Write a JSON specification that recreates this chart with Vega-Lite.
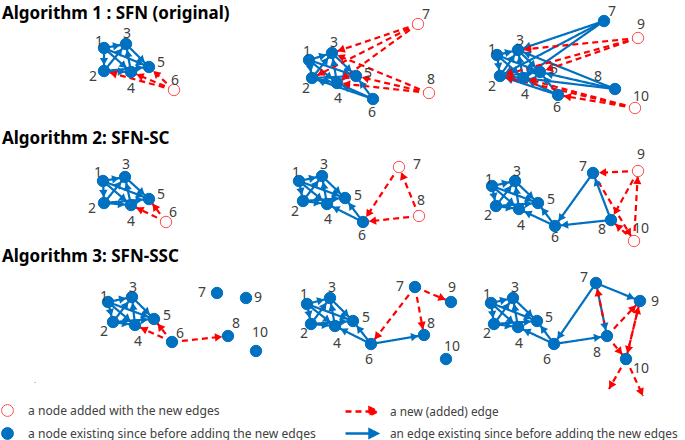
{
  "$schema": "https://vega.github.io/schema/vega-lite/v6.json",
  "width": 685,
  "height": 440,
  "padding": 0,
  "autosize": {"type": "none"},
  "background": "white",
  "config": {"view": {"stroke": null}},
  "datasets": {
    "nodes": [
      {"key":101,"id":"1","x":104,"y":48,"lx":99,"ly":42,"kind":"existing"},
      {"key":102,"id":"2","x":104,"y":71,"lx":93,"ly":77,"kind":"existing"},
      {"key":103,"id":"3","x":126,"y":44,"lx":127,"ly":34,"kind":"existing"},
      {"key":104,"id":"4","x":131,"y":72,"lx":131,"ly":89,"kind":"existing"},
      {"key":105,"id":"5","x":149,"y":67,"lx":161,"ly":63,"kind":"existing"},
      {"key":106,"id":"6","x":174,"y":90,"lx":175,"ly":81,"kind":"added"},
      {"key":201,"id":"1","x":309,"y":60,"lx":307,"ly":52,"kind":"existing"},
      {"key":202,"id":"2","x":312,"y":78,"lx":306,"ly":89,"kind":"existing"},
      {"key":203,"id":"3","x":332,"y":53,"lx":334,"ly":43,"kind":"existing"},
      {"key":204,"id":"4","x":337,"y":83,"lx":338,"ly":99,"kind":"existing"},
      {"key":205,"id":"5","x":356,"y":76,"lx":368,"ly":74,"kind":"existing"},
      {"key":206,"id":"6","x":373,"y":99,"lx":372,"ly":113,"kind":"existing"},
      {"key":207,"id":"7","x":418,"y":24,"lx":426,"ly":15,"kind":"added"},
      {"key":208,"id":"8","x":429,"y":93,"lx":431,"ly":80,"kind":"added"},
      {"key":301,"id":"1","x":497,"y":55,"lx":492,"ly":50,"kind":"existing"},
      {"key":302,"id":"2","x":500,"y":76,"lx":492,"ly":87,"kind":"existing"},
      {"key":303,"id":"3","x":518,"y":50,"lx":520,"ly":41,"kind":"existing"},
      {"key":304,"id":"4","x":523,"y":78,"lx":525,"ly":95,"kind":"existing"},
      {"key":305,"id":"5","x":540,"y":72,"lx":554,"ly":70,"kind":"existing"},
      {"key":306,"id":"6","x":558,"y":95,"lx":557,"ly":108,"kind":"existing"},
      {"key":307,"id":"7","x":604,"y":21,"lx":612,"ly":12,"kind":"existing"},
      {"key":308,"id":"8","x":615,"y":89,"lx":598,"ly":77,"kind":"existing"},
      {"key":309,"id":"9","x":638,"y":38,"lx":641,"ly":25,"kind":"added"},
      {"key":310,"id":"10","x":635,"y":108,"lx":641,"ly":97,"kind":"added"},
      {"key":401,"id":"1","x":103,"y":181,"lx":98,"ly":173,"kind":"existing"},
      {"key":402,"id":"2","x":104,"y":203,"lx":92,"ly":209,"kind":"existing"},
      {"key":403,"id":"3","x":125,"y":177,"lx":126,"ly":165,"kind":"existing"},
      {"key":404,"id":"4","x":131,"y":205,"lx":131,"ly":222,"kind":"existing"},
      {"key":405,"id":"5","x":149,"y":199,"lx":161,"ly":195,"kind":"existing"},
      {"key":406,"id":"6","x":166,"y":222,"lx":173,"ly":213,"kind":"added"},
      {"key":501,"id":"1","x":299,"y":181,"lx":296,"ly":173,"kind":"existing"},
      {"key":502,"id":"2","x":303,"y":201,"lx":295,"ly":212,"kind":"existing"},
      {"key":503,"id":"3","x":322,"y":176,"lx":324,"ly":165,"kind":"existing"},
      {"key":504,"id":"4","x":327,"y":204,"lx":328,"ly":220,"kind":"existing"},
      {"key":505,"id":"5","x":345,"y":198,"lx":358,"ly":196,"kind":"existing"},
      {"key":506,"id":"6","x":363,"y":222,"lx":362,"ly":236,"kind":"existing"},
      {"key":507,"id":"7","x":399,"y":167,"lx":417,"ly":165,"kind":"added"},
      {"key":508,"id":"8","x":419,"y":216,"lx":421,"ly":201,"kind":"added"},
      {"key":601,"id":"1","x":492,"y":186,"lx":489,"ly":180,"kind":"existing"},
      {"key":602,"id":"2","x":496,"y":206,"lx":488,"ly":216,"kind":"existing"},
      {"key":603,"id":"3","x":515,"y":181,"lx":517,"ly":172,"kind":"existing"},
      {"key":604,"id":"4","x":519,"y":209,"lx":521,"ly":226,"kind":"existing"},
      {"key":605,"id":"5","x":538,"y":203,"lx":551,"ly":200,"kind":"existing"},
      {"key":606,"id":"6","x":555,"y":226,"lx":555,"ly":238,"kind":"existing"},
      {"key":607,"id":"7","x":593,"y":173,"lx":583,"ly":167,"kind":"existing"},
      {"key":608,"id":"8","x":611,"y":220,"lx":602,"ly":230,"kind":"existing"},
      {"key":609,"id":"9","x":638,"y":171,"lx":641,"ly":155,"kind":"added"},
      {"key":610,"id":"10","x":634,"y":241,"lx":641,"ly":229,"kind":"added"},
      {"key":701,"id":"1","x":108,"y":302,"lx":104,"ly":297,"kind":"existing"},
      {"key":702,"id":"2","x":113,"y":322,"lx":104,"ly":332,"kind":"existing"},
      {"key":703,"id":"3","x":132,"y":297,"lx":133,"ly":288,"kind":"existing"},
      {"key":704,"id":"4","x":135,"y":325,"lx":138,"ly":342,"kind":"existing"},
      {"key":705,"id":"5","x":154,"y":319,"lx":167,"ly":316,"kind":"existing"},
      {"key":706,"id":"6","x":172,"y":342,"lx":180,"ly":334,"kind":"existing"},
      {"key":707,"id":"7","x":217,"y":293,"lx":202,"ly":293,"kind":"existing"},
      {"key":708,"id":"8","x":228,"y":336,"lx":236,"ly":324,"kind":"existing"},
      {"key":709,"id":"9","x":246,"y":298,"lx":258,"ly":298,"kind":"existing"},
      {"key":710,"id":"10","x":256,"y":351,"lx":260,"ly":333,"kind":"existing"},
      {"key":801,"id":"1","x":307,"y":304,"lx":304,"ly":295,"kind":"existing"},
      {"key":802,"id":"2","x":311,"y":324,"lx":304,"ly":334,"kind":"existing"},
      {"key":803,"id":"3","x":330,"y":298,"lx":332,"ly":288,"kind":"existing"},
      {"key":804,"id":"4","x":335,"y":326,"lx":337,"ly":344,"kind":"existing"},
      {"key":805,"id":"5","x":353,"y":321,"lx":366,"ly":318,"kind":"existing"},
      {"key":806,"id":"6","x":371,"y":344,"lx":369,"ly":360,"kind":"existing"},
      {"key":807,"id":"7","x":415,"y":287,"lx":400,"ly":287,"kind":"existing"},
      {"key":808,"id":"8","x":424,"y":335,"lx":431,"ly":324,"kind":"existing"},
      {"key":809,"id":"9","x":451,"y":302,"lx":452,"ly":288,"kind":"existing"},
      {"key":810,"id":"10","x":446,"y":359,"lx":452,"ly":347,"kind":"existing"},
      {"key":901,"id":"1","x":491,"y":303,"lx":487,"ly":295,"kind":"existing"},
      {"key":902,"id":"2","x":494,"y":324,"lx":487,"ly":334,"kind":"existing"},
      {"key":903,"id":"3","x":513,"y":298,"lx":515,"ly":288,"kind":"existing"},
      {"key":904,"id":"4","x":518,"y":327,"lx":519,"ly":344,"kind":"existing"},
      {"key":905,"id":"5","x":537,"y":321,"lx":549,"ly":318,"kind":"existing"},
      {"key":906,"id":"6","x":554,"y":344,"lx":547,"ly":360,"kind":"existing"},
      {"key":907,"id":"7","x":596,"y":283,"lx":584,"ly":278,"kind":"existing"},
      {"key":908,"id":"8","x":607,"y":336,"lx":597,"ly":353,"kind":"existing"},
      {"key":909,"id":"9","x":640,"y":301,"lx":655,"ly":302,"kind":"existing"},
      {"key":910,"id":"10","x":626,"y":359,"lx":641,"ly":369,"kind":"existing"},
      {"key":911,"id":"","x":609,"y":389,"lx":609,"ly":389,"kind":"ghost"},
      {"key":912,"id":"","x":643,"y":396,"lx":643,"ly":396,"kind":"ghost"}
    ],
    "edges": [
      {"s":101,"t":102,"kind":"old"},{"s":101,"t":103,"kind":"old"},{"s":101,"t":104,"kind":"old"},{"s":102,"t":103,"kind":"old"},{"s":102,"t":104,"kind":"old"},{"s":104,"t":103,"kind":"old"},{"s":103,"t":105,"kind":"old"},{"s":101,"t":105,"kind":"old"},{"s":102,"t":105,"kind":"old"},
      {"s":201,"t":202,"kind":"old"},{"s":201,"t":203,"kind":"old"},{"s":201,"t":204,"kind":"old"},{"s":202,"t":203,"kind":"old"},{"s":202,"t":204,"kind":"old"},{"s":204,"t":203,"kind":"old"},{"s":203,"t":205,"kind":"old"},{"s":201,"t":205,"kind":"old"},{"s":202,"t":205,"kind":"old"},
      {"s":206,"t":202,"kind":"old"},{"s":206,"t":204,"kind":"old"},{"s":206,"t":205,"kind":"old"},
      {"s":301,"t":302,"kind":"old"},{"s":301,"t":303,"kind":"old"},{"s":301,"t":304,"kind":"old"},{"s":302,"t":303,"kind":"old"},{"s":302,"t":304,"kind":"old"},{"s":304,"t":303,"kind":"old"},{"s":303,"t":305,"kind":"old"},{"s":301,"t":305,"kind":"old"},{"s":302,"t":305,"kind":"old"},
      {"s":306,"t":302,"kind":"old"},{"s":306,"t":304,"kind":"old"},{"s":306,"t":305,"kind":"old"},
      {"s":307,"t":303,"kind":"old"},{"s":307,"t":302,"kind":"old"},{"s":307,"t":304,"kind":"old"},
      {"s":308,"t":303,"kind":"old"},{"s":308,"t":304,"kind":"old"},{"s":308,"t":305,"kind":"old"},
      {"s":401,"t":402,"kind":"old"},{"s":401,"t":403,"kind":"old"},{"s":401,"t":404,"kind":"old"},{"s":402,"t":403,"kind":"old"},{"s":402,"t":404,"kind":"old"},{"s":404,"t":403,"kind":"old"},{"s":403,"t":405,"kind":"old"},{"s":401,"t":405,"kind":"old"},{"s":402,"t":405,"kind":"old"},
      {"s":501,"t":502,"kind":"old"},{"s":501,"t":503,"kind":"old"},{"s":501,"t":504,"kind":"old"},{"s":502,"t":503,"kind":"old"},{"s":502,"t":504,"kind":"old"},{"s":504,"t":503,"kind":"old"},{"s":503,"t":505,"kind":"old"},{"s":501,"t":505,"kind":"old"},{"s":502,"t":505,"kind":"old"},
      {"s":506,"t":504,"kind":"old"},{"s":506,"t":505,"kind":"old"},
      {"s":601,"t":602,"kind":"old"},{"s":601,"t":603,"kind":"old"},{"s":601,"t":604,"kind":"old"},{"s":602,"t":603,"kind":"old"},{"s":602,"t":604,"kind":"old"},{"s":604,"t":603,"kind":"old"},{"s":603,"t":605,"kind":"old"},{"s":601,"t":605,"kind":"old"},{"s":602,"t":605,"kind":"old"},
      {"s":606,"t":604,"kind":"old"},{"s":606,"t":605,"kind":"old"},{"s":607,"t":606,"kind":"old"},{"s":608,"t":606,"kind":"old"},{"s":608,"t":607,"kind":"old"},
      {"s":701,"t":702,"kind":"old"},{"s":701,"t":703,"kind":"old"},{"s":701,"t":704,"kind":"old"},{"s":702,"t":703,"kind":"old"},{"s":702,"t":704,"kind":"old"},{"s":704,"t":703,"kind":"old"},{"s":703,"t":705,"kind":"old"},{"s":701,"t":705,"kind":"old"},{"s":702,"t":705,"kind":"old"},
      {"s":801,"t":802,"kind":"old"},{"s":801,"t":803,"kind":"old"},{"s":801,"t":804,"kind":"old"},{"s":802,"t":803,"kind":"old"},{"s":802,"t":804,"kind":"old"},{"s":804,"t":803,"kind":"old"},{"s":803,"t":805,"kind":"old"},{"s":801,"t":805,"kind":"old"},{"s":802,"t":805,"kind":"old"},
      {"s":806,"t":804,"kind":"old"},{"s":806,"t":805,"kind":"old"},{"s":806,"t":808,"kind":"old"},
      {"s":901,"t":902,"kind":"old"},{"s":901,"t":903,"kind":"old"},{"s":901,"t":904,"kind":"old"},{"s":902,"t":903,"kind":"old"},{"s":902,"t":904,"kind":"old"},{"s":904,"t":903,"kind":"old"},{"s":903,"t":905,"kind":"old"},{"s":901,"t":905,"kind":"old"},{"s":902,"t":905,"kind":"old"},
      {"s":906,"t":904,"kind":"old"},{"s":906,"t":905,"kind":"old"},{"s":906,"t":908,"kind":"old"},{"s":907,"t":906,"kind":"old"},{"s":907,"t":908,"kind":"old"},{"s":907,"t":909,"kind":"old"},
      {"s":106,"t":102,"kind":"new"},{"s":106,"t":104,"kind":"new"},{"s":106,"t":105,"kind":"new"},
      {"s":207,"t":203,"kind":"new"},{"s":207,"t":202,"kind":"new"},{"s":207,"t":204,"kind":"new"},{"s":208,"t":203,"kind":"new"},{"s":208,"t":204,"kind":"new"},{"s":208,"t":205,"kind":"new"},
      {"s":309,"t":303,"kind":"new"},{"s":309,"t":302,"kind":"new"},{"s":309,"t":305,"kind":"new"},{"s":310,"t":304,"kind":"new"},{"s":310,"t":306,"kind":"new"},{"s":310,"t":302,"kind":"new"},
      {"s":406,"t":404,"kind":"new"},{"s":406,"t":405,"kind":"new"},
      {"s":507,"t":506,"kind":"new"},{"s":508,"t":506,"kind":"new"},{"s":508,"t":507,"kind":"new"},
      {"s":609,"t":607,"kind":"new"},{"s":609,"t":608,"kind":"new"},{"s":610,"t":609,"kind":"new"},{"s":607,"t":610,"kind":"new"},{"s":610,"t":608,"kind":"new"},
      {"s":706,"t":704,"kind":"new"},{"s":706,"t":705,"kind":"new"},{"s":706,"t":708,"kind":"new"},
      {"s":807,"t":806,"kind":"new"},{"s":807,"t":808,"kind":"new"},{"s":807,"t":809,"kind":"new"},
      {"s":908,"t":907,"kind":"new"},{"s":908,"t":909,"kind":"new"},{"s":908,"t":910,"kind":"new"},{"s":909,"t":910,"kind":"new"},{"s":910,"t":909,"kind":"new"},{"s":910,"t":911,"kind":"new"},{"s":910,"t":912,"kind":"new"}
    ],
    "titles": [
      {"x":2,"y":18.5,"text":"Algorithm 1 : SFN  (original)"},
      {"x":2,"y":144,"text":"Algorithm 2: SFN-SC"},
      {"x":2,"y":262,"text":"Algorithm 3: SFN-SSC"}
    ],
    "notes": [
      {"x":35,"y":383,"text":"."}
    ]
  },
  "layer": [
    {
      "data": {"name": "edges"},
      "transform": [
        {"lookup": "s", "from": {"data": {"name": "nodes"}, "key": "key", "fields": ["x", "y"]}, "as": ["sx", "sy"]},
        {"lookup": "t", "from": {"data": {"name": "nodes"}, "key": "key", "fields": ["x", "y"]}, "as": ["tx", "ty"]}
      ],
      "mark": {"type": "rule", "strokeWidth": 2.2},
      "encoding": {
        "x": {"field": "sx", "type": "quantitative", "scale": {"domain": [0, 685], "nice": false, "zero": false}, "axis": null},
        "y": {"field": "sy", "type": "quantitative", "scale": {"domain": [0, 440], "nice": false, "zero": false, "reverse": true}, "axis": null},
        "x2": {"field": "tx"},
        "y2": {"field": "ty"},
        "color": {
          "field": "kind", "type": "nominal",
          "scale": {"domain": ["new", "old"], "range": ["#FF0000", "#0070C0"]},
          "legend": {
            "orient": "none", "legendX": 352, "legendY": 402, "title": null,
            "symbolType": "M-2,0H1.2M1,-0.5L2,0L1,0.5Z", "symbolSize": 256, "symbolStrokeWidth": 2.5,
            "labelFont": "Noto Sans", "labelFontSize": 11.8, "labelColor": "#404040", "labelOffset": 19, "rowPadding": 3, "labelLimit": 0,
            "labelExpr": "datum.value == 'new' ? 'a new (added) edge' : 'an edge existing since before adding the new edges'",
            "encode": {"symbols": {"update": {"fill": {"scale": "color", "field": "value"}}}}
          }
        },
        "strokeDash": {
          "field": "kind", "type": "nominal",
          "scale": {"domain": ["new", "old"], "range": [[6, 4], [1, 0]]},
          "legend": {
            "orient": "none", "legendX": 352, "legendY": 402, "title": null,
            "symbolType": "M-2,0H1.2M1,-0.5L2,0L1,0.5Z", "symbolSize": 256, "symbolStrokeWidth": 2.5,
            "labelFont": "Noto Sans", "labelFontSize": 11.8, "labelColor": "#404040", "labelOffset": 19, "rowPadding": 3, "labelLimit": 0,
            "labelExpr": "datum.value == 'new' ? 'a new (added) edge' : 'an edge existing since before adding the new edges'",
            "encode": {"symbols": {"update": {"fill": {"scale": "color", "field": "value"}}}}
          }
        }
      }
    },
    {
      "data": {"name": "edges"},
      "transform": [
        {"lookup": "s", "from": {"data": {"name": "nodes"}, "key": "key", "fields": ["x", "y"]}, "as": ["sx", "sy"]},
        {"lookup": "t", "from": {"data": {"name": "nodes"}, "key": "key", "fields": ["x", "y", "kind"]}, "as": ["tx", "ty", "tkind"]},
        {"calculate": "datum.tx - datum.sx", "as": "dx"},
        {"calculate": "datum.ty - datum.sy", "as": "dy"},
        {"calculate": "sqrt(datum.dx*datum.dx + datum.dy*datum.dy)", "as": "len"},
        {"calculate": "datum.tkind == 'ghost' ? 4 : 9.5", "as": "off"},
        {"calculate": "datum.tx - datum.off*datum.dx/datum.len", "as": "ax"},
        {"calculate": "datum.ty - datum.off*datum.dy/datum.len", "as": "ay"},
        {"calculate": "(atan2(datum.dy, datum.dx)*180/PI + 360) % 360", "as": "ang"}
      ],
      "mark": {"type": "point", "shape": "triangle-right", "filled": true, "size": 70, "opacity": 1},
      "encoding": {
        "x": {"field": "ax", "type": "quantitative"},
        "y": {"field": "ay", "type": "quantitative"},
        "angle": {"field": "ang", "type": "quantitative", "scale": null},
        "color": {"field": "kind", "type": "nominal"}
      }
    },
    {
      "data": {"name": "nodes"},
      "transform": [{"filter": "datum.kind != 'ghost'"}],
      "mark": {"type": "point", "shape": "circle", "size": 130, "strokeWidth": 1, "opacity": 1, "fillOpacity": 1},
      "encoding": {
        "x": {"field": "x", "type": "quantitative"},
        "y": {"field": "y", "type": "quantitative"},
        "fill": {
          "field": "kind", "type": "nominal",
          "scale": {"domain": ["added", "existing"], "range": ["#FFFFFF", "#0070C0"]},
          "legend": {
            "orient": "none", "legendX": 1, "legendY": 404, "title": null,
            "symbolType": "circle", "symbolSize": 140, "symbolStrokeWidth": 1,
            "labelFont": "Noto Sans", "labelFontSize": 12.1, "labelColor": "#404040", "labelOffset": 14, "rowPadding": 6, "labelLimit": 0,
            "labelExpr": "datum.value == 'added' ? 'a  node added with the new edges' : 'a node existing since before adding the new edges'"
          }
        },
        "stroke": {
          "field": "kind", "type": "nominal",
          "scale": {"domain": ["added", "existing"], "range": ["#FF5050", "#0070C0"]},
          "legend": {
            "orient": "none", "legendX": 1, "legendY": 404, "title": null,
            "symbolType": "circle", "symbolSize": 140, "symbolStrokeWidth": 1,
            "labelFont": "Noto Sans", "labelFontSize": 12.1, "labelColor": "#404040", "labelOffset": 14, "rowPadding": 6, "labelLimit": 0,
            "labelExpr": "datum.value == 'added' ? 'a  node added with the new edges' : 'a node existing since before adding the new edges'"
          }
        }
      }
    },
    {
      "data": {"name": "nodes"},
      "transform": [{"filter": "datum.kind != 'ghost'"}],
      "mark": {"type": "text", "font": "Noto Sans", "fontSize": 14, "color": "#404040", "align": "center", "baseline": "middle"},
      "encoding": {
        "x": {"field": "lx", "type": "quantitative"},
        "y": {"field": "ly", "type": "quantitative"},
        "text": {"field": "id"}
      }
    },
    {
      "data": {"name": "titles"},
      "mark": {"type": "text", "font": "Noto Sans", "fontSize": 17, "fontWeight": "bold", "color": "#000000", "align": "left", "baseline": "alphabetic"},
      "encoding": {
        "x": {"field": "x", "type": "quantitative"},
        "y": {"field": "y", "type": "quantitative"},
        "text": {"field": "text"}
      }
    },
    {
      "data": {"name": "notes"},
      "mark": {"type": "text", "font": "Noto Sans", "fontSize": 8, "color": "#808080", "align": "center", "baseline": "alphabetic"},
      "encoding": {
        "x": {"field": "x", "type": "quantitative"},
        "y": {"field": "y", "type": "quantitative"},
        "text": {"field": "text"}
      }
    }
  ]
}
